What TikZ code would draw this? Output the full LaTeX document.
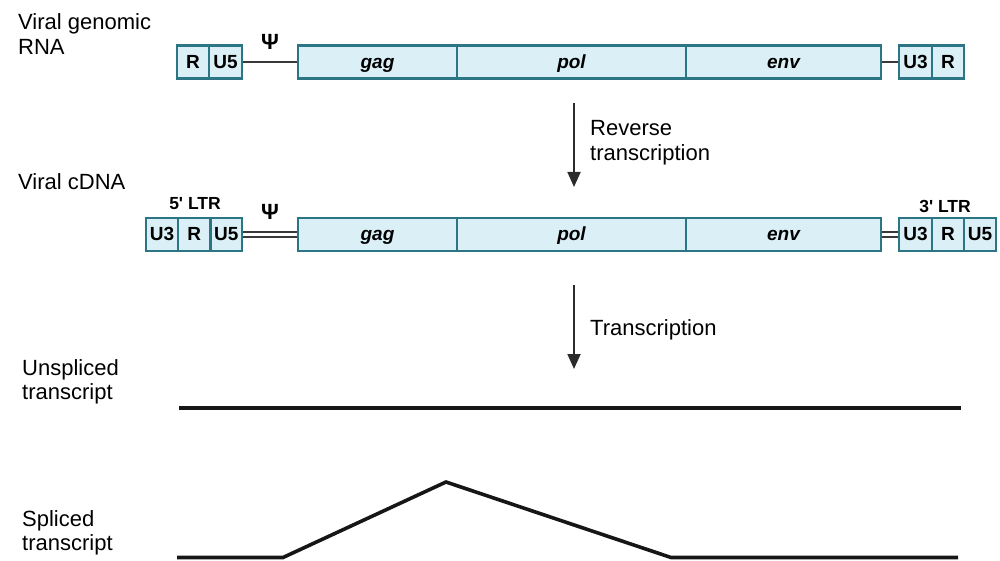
\documentclass[tikz,border=0pt]{standalone}
\usepackage{fontspec}
\setmainfont{Liberation Sans}
\usetikzlibrary{arrows.meta}
\definecolor{segfill}{HTML}{DAF0F6}
\definecolor{segline}{HTML}{2C7584}
\definecolor{arrowgray}{HTML}{2B2B2B}
\definecolor{strand}{HTML}{161616}
\begin{document}
\begin{tikzpicture}[x=1pt,y=-1pt,
  seg/.style={draw=segline, fill=segfill, line width=2.2pt, inner sep=0pt,
              minimum height=33pt, text height=16pt, text depth=3.4pt,
              font=\fontsize{19}{21}\selectfont\bfseries},
  gene/.style={seg, font=\fontsize{19}{21}\selectfont\bfseries\itshape},
  label/.style={anchor=base west, align=left, inner sep=0pt,
                font=\fontsize{22}{24.5}\selectfont},
  ltr/.style={inner sep=0pt, font=\fontsize{17.5}{19}\selectfont\bfseries},
  psi/.style={inner sep=0pt, font=\fontsize{22}{23}\selectfont\bfseries},
  link/.style={draw=strand!85, line width=1.8pt},
  dlink/.style={draw=strand!85, line width=1.8pt, double=white, double distance=3pt},
  step arrow/.style={draw=arrowgray, line width=1.8pt,
                     -{Triangle[width=13pt,length=15pt]}},
  rna/.style={draw=strand, line width=3.6pt}]
\useasboundingbox (0,0) rectangle (1000,561);

% ---- genomic RNA ----
\node[label] (lgen) at (18,54.5) {Viral genomic\\RNA};
\node[seg, minimum width=32pt] (r1a) at (193,62) {R};
\node[seg, minimum width=33pt] (u5a) at (225.5,62) {U5};
\node[gene, minimum width=159pt] (gag1) at (377.5,62) {gag};
\node[gene, minimum width=229pt] (pol1) at (571.5,62) {pol};
\node[gene, minimum width=195pt] (env1) at (783.5,62) {env};
\node[seg, minimum width=33pt] (u3a) at (915.5,62) {U3};
\node[seg, minimum width=32pt] (r1b) at (948,62) {R};
\node[psi] (psi1) at (270,42) {Ψ};
\draw[link] (u5a.east) -- (gag1.west);
\draw[link] (env1.east) -- (u3a.west);

% ---- reverse transcription ----
\coordinate (rt1) at (574,103);
\coordinate (rt2) at (574,187);
\draw[step arrow] (rt1) -- (rt2);
\node[label] (lrt) at (590,160.5) {Reverse\\transcription};

% ---- proviral cDNA ----
\node[label] (lcdna) at (18,189.5) {Viral cDNA};
\node[seg, minimum width=32pt] (u3b) at (162,234.5) {U3};
\node[seg, minimum width=32.5pt] (r2a) at (194.25,234.5) {R};
\node[seg, minimum width=31.5pt] (u5b) at (226.25,234.5) {U5};
\node[gene, minimum width=159pt] (gag2) at (377.5,234.5) {gag};
\node[gene, minimum width=229pt] (pol2) at (571.5,234.5) {pol};
\node[gene, minimum width=195pt] (env2) at (783.5,234.5) {env};
\node[seg, minimum width=33pt] (u3c) at (915.5,234.5) {U3};
\node[seg, minimum width=32pt] (r2b) at (948,234.5) {R};
\node[seg, minimum width=32pt] (u5c) at (980,234.5) {U5};
\node[psi] (psi2) at (270,212) {Ψ};
\node[ltr] (ltr5) at (195,204) {5\textquotesingle{} LTR};
\node[ltr] (ltr3) at (945,206) {3\textquotesingle{} LTR};
\draw[dlink] (u5b.east) -- (gag2.west);
\draw[dlink] (env2.east) -- (u3c.west);

% ---- transcription ----
\coordinate (tx1) at (574,285);
\coordinate (tx2) at (574,369);
\draw[step arrow] (tx1) -- (tx2);
\node[label] (ltx) at (590,335.5) {Transcription};

% ---- transcripts ----
\node[label] (lun) at (22,399.5) {Unspliced\\transcript};
\coordinate (un1) at (179,408);
\coordinate (un2) at (961,408);
\draw[rna] (un1) -- (un2);

\node[label] (lsp) at (22,550.5) {Spliced\\transcript};
\coordinate (sp1) at (177,557.5);
\coordinate (sp2) at (283,557.5);
\coordinate (sp3) at (446,482);
\coordinate (sp4) at (671,557.5);
\coordinate (sp5) at (958,557.5);
\draw[rna, line join=miter] (sp1) -- (sp2) -- (sp3) -- (sp4) -- (sp5);
\end{tikzpicture}
\end{document}
